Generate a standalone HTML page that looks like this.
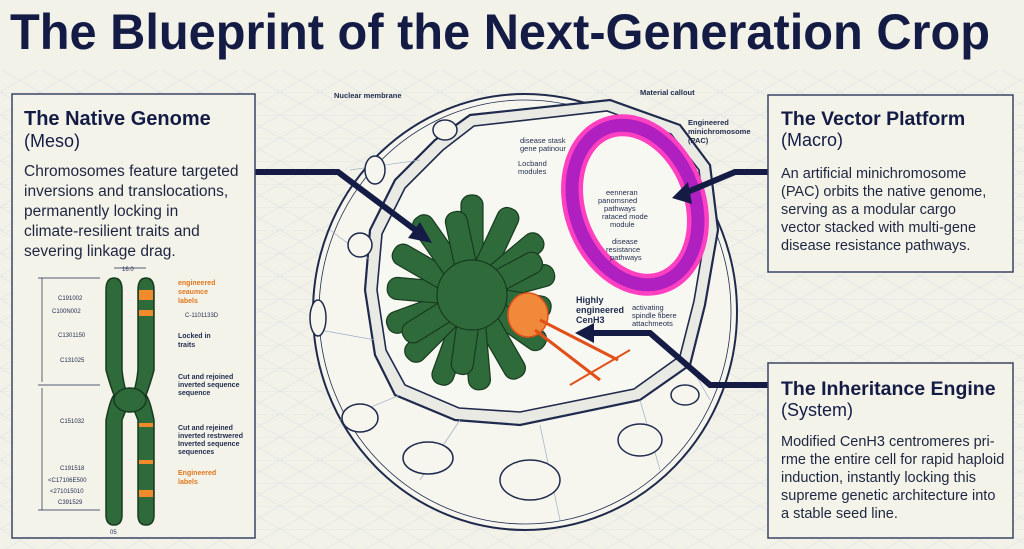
<!DOCTYPE html>
<html><head><meta charset="utf-8"><style>
html,body{margin:0;padding:0;background:#f3f2e8;}
svg{display:block}
text{font-family:"Liberation Sans",sans-serif;}
</style></head><body>
<svg width="1024" height="549" viewBox="0 0 1024 549" xmlns="http://www.w3.org/2000/svg">
<defs>
<pattern id="grid" width="40" height="23" patternUnits="userSpaceOnUse">
<path d="M0 0L40 23M40 0L0 23M0 0H40" stroke="#dfe3e6" stroke-width="0.7" fill="none"/>
</pattern>
</defs>
<rect width="1024" height="549" fill="#f3f2e8"/>
<rect y="70" width="1024" height="479" fill="url(#grid)"/>
<text x="10" y="49" font-size="50" font-weight="bold" fill="#141c45" textLength="980" lengthAdjust="spacingAndGlyphs">The Blueprint of the Next-Generation Crop</text>

<!-- nucleus -->
<g fill="none" stroke="#1f2a4d">
<ellipse cx="525" cy="312" rx="212" ry="218" fill="#f6f6ef" stroke-width="2"/>
<ellipse cx="525" cy="312" rx="206" ry="212" stroke-width="0.8"/>
<path d="M435 140 L470 115 L610 100 L680 125 L710 165 L718 230 L705 305 L690 365 L640 400 L520 425 L455 420 L395 395 L375 355 L365 290 L370 230 L395 180 Z" fill="#e9eae4" stroke-width="2.2"/>
<path d="M443 150 L474 126 L607 111 L671 134 L699 170 L706 230 L694 301 L680 356 L634 389 L520 412 L459 408 L405 385 L386 350 L377 290 L382 234 L405 188 Z" fill="#f8f8f2" stroke-width="1.6"/>
<g stroke="#9fb0c4" stroke-width="0.7">
<path d="M330 230 L370 260 M320 330 L375 340 M340 420 L400 395 M420 480 L460 420 M560 520 L540 425 M660 470 L640 400 M710 400 L690 365 M350 170 L420 160"/>
</g>
<g stroke-width="1.5" fill="#f6f6ef">
<ellipse cx="445" cy="130" rx="12" ry="10"/>
<ellipse cx="360" cy="245" rx="12" ry="12"/>
<ellipse cx="318" cy="318" rx="8" ry="18"/>
<ellipse cx="360" cy="418" rx="18" ry="14"/>
<ellipse cx="428" cy="458" rx="25" ry="16"/>
<ellipse cx="530" cy="480" rx="30" ry="20"/>
<ellipse cx="640" cy="440" rx="22" ry="16"/>
<ellipse cx="685" cy="395" rx="14" ry="10"/>
<ellipse cx="375" cy="170" rx="10" ry="14"/>
</g>
</g>
<!-- chromosome bundle -->
<g fill="#2f6b3a" stroke="#173a20" stroke-width="1.2">
<g transform="translate(472,295)">
<rect x="-11" y="-100" width="22" height="100" rx="10" transform="rotate(0)"/>
<rect x="-11" y="-95" width="22" height="95" rx="10" transform="rotate(25)"/>
<rect x="-11" y="-90" width="22" height="90" rx="10" transform="rotate(50)"/>
<rect x="-11" y="-85" width="22" height="85" rx="10" transform="rotate(75)"/>
<rect x="-11" y="-80" width="22" height="80" rx="10" transform="rotate(100)"/>
<rect x="-11" y="-88" width="22" height="88" rx="10" transform="rotate(125)"/>
<rect x="-11" y="-95" width="22" height="95" rx="10" transform="rotate(150)"/>
<rect x="-11" y="-95" width="22" height="95" rx="10" transform="rotate(175)"/>
<rect x="-11" y="-95" width="22" height="95" rx="10" transform="rotate(200)"/>
<rect x="-11" y="-90" width="22" height="90" rx="10" transform="rotate(225)"/>
<rect x="-11" y="-90" width="22" height="90" rx="10" transform="rotate(250)"/>
<rect x="-11" y="-85" width="22" height="85" rx="10" transform="rotate(275)"/>
<rect x="-11" y="-90" width="22" height="90" rx="10" transform="rotate(300)"/>
<rect x="-11" y="-95" width="22" height="95" rx="10" transform="rotate(325)"/>
<rect x="-11" y="-85" width="22" height="85" rx="10" transform="rotate(-12)"/>
<rect x="-11" y="-78" width="22" height="78" rx="10" transform="rotate(62)"/>
<rect x="-11" y="-80" width="22" height="80" rx="10" transform="rotate(188)"/>
<rect x="-11" y="-80" width="22" height="80" rx="10" transform="rotate(238)"/>
<circle r="35"/>
</g>
</g>
<!-- CenH3 -->
<g stroke="#e2501a" stroke-width="1.5">
<ellipse cx="528" cy="315" rx="20" ry="22" fill="#f08a3a"/>
<path d="M540 320 L618 360 M535 330 L600 380" stroke-width="3"/>
<path d="M570 385 L630 350" stroke-width="2"/>
</g>
<!-- pink ring -->
<g transform="rotate(-20 635 205)">
<ellipse cx="635" cy="205" rx="60" ry="82" fill="none" stroke="#ff40c0" stroke-width="22"/>
<ellipse cx="635" cy="205" rx="60" ry="82" fill="none" stroke="#b020c0" stroke-width="13"/>
</g>
<!-- labels in middle -->
<g font-size="7.5" fill="#1f2a4d">
<text x="334" y="98" font-weight="bold">Nuclear membrane</text>
<text x="640" y="95" font-weight="bold">Material callout</text>
<text x="688" y="125" font-weight="bold">Engineered</text>
<text x="688" y="134" font-weight="bold">minichromosome</text>
<text x="688" y="143" font-weight="bold">(PAC)</text>
<text x="520" y="143">disease stask</text><text x="520" y="151">gene patinour</text>
<text x="518" y="166">Locband</text><text x="518" y="174">modules</text>
<text x="606" y="195">eenneran</text><text x="598" y="203">panomsned</text><text x="604" y="211">pathways</text>
<text x="602" y="219">rataced mode</text><text x="610" y="227">module</text>
<text x="612" y="244">disease</text><text x="606" y="252">resistance</text><text x="610" y="260">pathways</text>
<text x="576" y="303" font-size="9" font-weight="bold">Highly</text>
<text x="576" y="313" font-size="9" font-weight="bold">engineered</text>
<text x="576" y="323" font-size="9" font-weight="bold">CenH3</text>
<text x="632" y="310">activating</text><text x="632" y="318">spindle fibere</text><text x="632" y="326">attachmeots</text>
</g>
<!-- connector arrows -->
<g stroke="#141c45" stroke-width="6" fill="none" stroke-linejoin="miter">
<path d="M255 172 L338 172 L418 232"/>
<path d="M768 172 L735 172 L685 193"/>
<path d="M768 385 L710 385 L650 333 L590 333"/>
</g>
<g fill="#141c45">
<polygon points="432,243 408,238 420,222"/>
<polygon points="672,198 688,182 692,204"/>
<polygon points="575,333 594,323 594,343"/>
</g>

<!-- panels -->
<g fill="#f4f3ea" stroke="#3b4565" stroke-width="1.5">
<rect x="12" y="94" width="243" height="444"/>
<rect x="768" y="95" width="245" height="177"/>
<rect x="768" y="363" width="245" height="175"/>
</g>
<g fill="#141c45">
<text x="24" y="125" font-size="20" font-weight="bold">The Native Genome</text>
<text x="24" y="147" font-size="18">(Meso)</text>
<g font-size="15.5" fill="#1e2540">
<text x="24" y="176">Chromosomes feature targeted</text>
<text x="24" y="196">inversions and translocations,</text>
<text x="24" y="216">permanently locking in</text>
<text x="24" y="236">climate-resilient traits and</text>
<text x="24" y="256">severing linkage drag.</text>
</g>
<text x="781" y="125" font-size="19.5" font-weight="bold">The Vector Platform</text>
<text x="781" y="146" font-size="18">(Macro)</text>
<g font-size="14.5" fill="#1e2540">
<text x="781" y="178">An artificial minichromosome</text>
<text x="781" y="196">(PAC) orbits the native genome,</text>
<text x="781" y="214">serving as a modular cargo</text>
<text x="781" y="232">vector stacked with multi-gene</text>
<text x="781" y="250">disease resistance pathways.</text>
</g>
<text x="781" y="395" font-size="19.5" font-weight="bold">The Inheritance Engine</text>
<text x="781" y="416" font-size="18">(System)</text>
<g font-size="14.5" fill="#1e2540">
<text x="781" y="446">Modified CenH3 centromeres pri-</text>
<text x="781" y="464">rme the entire cell for rapid haploid</text>
<text x="781" y="482">induction, instantly locking this</text>
<text x="781" y="500">supreme genetic architecture into</text>
<text x="781" y="518">a stable seed line.</text>
</g>
</g>
<!-- chromosome X -->
<g stroke="#173a20" stroke-width="1.5" fill="#2f6b3a">
<path d="M106 290 Q106 278 114 278 Q122 278 122 290 L122 370 Q124 390 130 400 L122 420 L122 515 Q122 525 114 525 Q106 525 106 515 L106 420 Q110 400 114 395 Q110 385 106 370 Z"/>
<path d="M138 290 Q138 278 146 278 Q154 278 154 290 L154 370 Q150 385 146 395 Q150 400 154 420 L154 515 Q154 525 146 525 Q138 525 138 515 L138 420 L130 400 Q136 390 138 370 Z"/>
<ellipse cx="130" cy="400" rx="16" ry="12"/>
</g>
<g fill="#f08a2a">
<rect x="139" y="290" width="14" height="10"/><rect x="139" y="310" width="14" height="6"/>
<rect x="139" y="423" width="14" height="4"/><rect x="139" y="460" width="14" height="4"/><rect x="139" y="490" width="14" height="7"/>
</g>
<g font-size="6" fill="#1f2a4d">
<text x="122" y="271">16.0</text>
<text x="58" y="300">C191002</text><text x="52" y="313">C100N002</text><text x="58" y="337">C1301150</text><text x="60" y="362">C131025</text>
<text x="60" y="423">C151032</text><text x="60" y="470">C191518</text><text x="48" y="482">&lt;C17106E500</text><text x="50" y="493">&lt;271015010</text><text x="58" y="504">C391529</text>
<text x="185" y="317">C-1101133D</text>
<text x="110" y="534">05</text>
</g>
<g font-size="7" font-weight="bold">
<text x="178" y="285" fill="#e0761a">engineered</text><text x="178" y="294" fill="#e0761a">seaumce</text><text x="178" y="303" fill="#e0761a">labels</text>
<text x="178" y="338" fill="#1f2a4d">Locked in</text><text x="178" y="347" fill="#1f2a4d">traits</text>
<text x="178" y="379" fill="#1f2a4d">Cut and rejoined</text><text x="178" y="387" fill="#1f2a4d">inverted sequence</text><text x="178" y="395" fill="#1f2a4d">sequence</text>
<text x="178" y="430" fill="#1f2a4d">Cut and rejeined</text><text x="178" y="438" fill="#1f2a4d">inverted restrwered</text><text x="178" y="446" fill="#1f2a4d">Inverted sequence</text><text x="178" y="454" fill="#1f2a4d">sequences</text>
<text x="178" y="475" fill="#e0761a">Engineered</text><text x="178" y="484" fill="#e0761a">labels</text>
</g>
<g stroke="#1f2a4d" stroke-width="0.7" fill="none">
<path d="M42 278 V382 M42 388 V510 M38 278 H100 M38 385 H100 M38 510 H100 M114 268 H146"/>
</g>
</svg>
</body></html>
